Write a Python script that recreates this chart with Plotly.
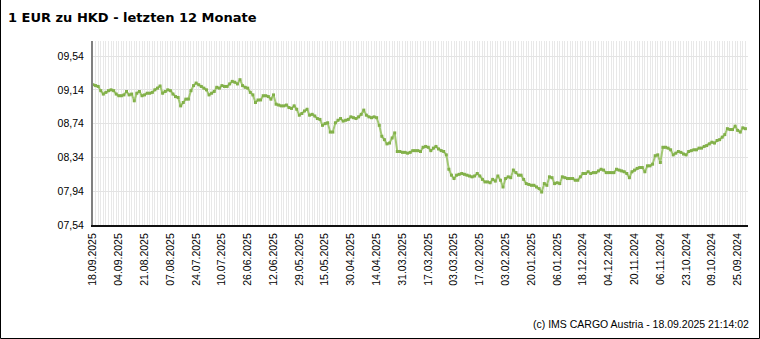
import pandas as pd
import plotly.graph_objects as go

# ---- data -------------------------------------------------------------
title_text = "1 EUR zu HKD - letzten 12 Monate"
footer_text = "(c) IMS CARGO Austria - 18.09.2025 21:14:02"

holidays = ["2024-12-25", "2024-12-26", "2025-01-01",
            "2025-04-18", "2025-04-21", "2025-05-01"]
business_days = pd.bdate_range("2024-09-20", "2025-09-18")
dates = [d.strftime("%d.%m.%Y") for d in business_days
         if d.strftime("%Y-%m-%d") not in holidays][::-1]   # newest first

rates = [
    9.20, 9.19, 9.18, 9.13, 9.09, 9.11, 9.13, 9.14, 9.13, 9.09,
    9.07, 9.07, 9.08, 9.12, 9.08, 9.09, 9.01, 9.10, 9.12, 9.07,
    9.08, 9.10, 9.10, 9.11, 9.14, 9.16, 9.185, 9.10, 9.12, 9.14,
    9.13, 9.09, 9.06, 9.05, 8.95, 8.99, 9.03, 9.03, 9.13, 9.19,
    9.22, 9.20, 9.18, 9.16, 9.14, 9.08, 9.10, 9.12, 9.17, 9.16,
    9.19, 9.18, 9.18, 9.21, 9.24, 9.23, 9.21, 9.26, 9.19, 9.17,
    9.16, 9.11, 9.08, 8.99, 9.02, 9.02, 9.07, 9.07, 9.06, 9.03,
    9.08, 8.97, 8.96, 8.95, 8.95, 8.96, 8.93, 8.92, 8.95, 8.91,
    8.84, 8.86, 8.89, 8.91, 8.84, 8.85, 8.83, 8.80, 8.79, 8.72,
    8.74, 8.75, 8.64, 8.64, 8.75, 8.78, 8.80, 8.77, 8.78, 8.79,
    8.82, 8.81, 8.80, 8.82, 8.85, 8.90, 8.84, 8.82, 8.81, 8.82,
    8.81, 8.72, 8.59, 8.55, 8.50, 8.51, 8.57, 8.63, 8.41, 8.41,
    8.40, 8.40, 8.39, 8.40, 8.42, 8.42, 8.42, 8.41, 8.46, 8.47,
    8.46, 8.42, 8.45, 8.47, 8.44, 8.42, 8.41, 8.37, 8.20, 8.13,
    8.09, 8.13, 8.14, 8.15, 8.14, 8.13, 8.12, 8.11, 8.12, 8.15,
    8.12, 8.08, 8.05, 8.05, 8.04, 8.08, 8.06, 8.12, 8.07, 7.99,
    8.09, 8.11, 8.10, 8.19, 8.16, 8.13, 8.13, 8.08, 8.03, 8.02,
    8.01, 8.01, 7.99, 7.97, 7.93, 8.03, 8.01, 8.11, 8.10, 8.03,
    8.04, 8.03, 8.11, 8.10, 8.09, 8.09, 8.09, 8.07, 8.07, 8.11,
    8.15, 8.15, 8.17, 8.15, 8.16, 8.16, 8.18, 8.20, 8.19, 8.16,
    8.16, 8.16, 8.16, 8.20, 8.19, 8.18, 8.17, 8.15, 8.10, 8.17,
    8.19, 8.21, 8.22, 8.22, 8.17, 8.24, 8.24, 8.26, 8.36, 8.37,
    8.28, 8.46, 8.46, 8.45, 8.43, 8.37, 8.39, 8.41, 8.40, 8.38,
    8.37, 8.41, 8.42, 8.43, 8.43, 8.45, 8.45, 8.47, 8.48, 8.50,
    8.52, 8.51, 8.54, 8.55, 8.58, 8.61, 8.68, 8.67, 8.67, 8.71,
    8.66, 8.64, 8.69, 8.68,
]

y_ticks = [7.54, 7.94, 8.34, 8.74, 9.14, 9.54]
y_tick_labels = ["07,54", "07,94", "08,34", "08,74", "09,14", "09,54"]

n = min(len(rates), len(dates))
x_idx = list(range(n))
x_tick_idx = list(range(0, n, 10))
x_tick_labels = [dates[i] for i in x_tick_idx]

# ---- figure -----------------------------------------------------------
W, H = 760, 339
L, R, T, B = 93, 12, 41, 114
pw, ph = W - L - R, H - T - B

def px(xp):
    return (xp - L) / pw

def py(yp):
    return (H - B - yp) / ph

fig = go.Figure()
fig.add_trace(go.Scatter(
    x=x_idx, y=rates[:n], mode="lines+markers",
    line=dict(color="#a2c873", width=2),
    marker=dict(color="#82b049", size=3, symbol="square"),
    hoverinfo="skip", showlegend=False,
))

font = "Liberation Sans, Arial, sans-serif"
fs = 10.5
fig.update_layout(
    width=W, height=H,
    margin=dict(l=L, r=R, t=T, b=B, pad=0),
    paper_bgcolor="white", plot_bgcolor="white",
    font=dict(family=font, size=fs, color="black"),
    title=dict(text="<b>" + title_text + "</b>",
               font=dict(family="DejaVu Sans, Verdana, sans-serif", size=13, color="black"),
               x=8 / W, xanchor="left", xref="container",
               y=1 - 17 / H, yanchor="middle", yref="container"),
    xaxis=dict(
        range=[0, 254], tickmode="array", tickvals=x_tick_idx, ticktext=x_tick_labels,
        tickangle=-90, showgrid=True, gridcolor="#e8e8e8", gridwidth=1,
        minor=dict(dtick=1, tick0=0, showgrid=True, gridcolor="#e8e8e8", gridwidth=1),
        showline=True, linecolor="#111111", linewidth=2, zeroline=False,
        ticks="", ticklabelstandoff=2,
        tickfont=dict(family=font, size=fs, color="black"),
        fixedrange=True,
    ),
    yaxis=dict(
        range=[7.54, 9.718], tickmode="array", tickvals=y_ticks, ticktext=y_tick_labels,
        showgrid=True, gridcolor="#e3e3e3", gridwidth=1,
        showline=True, linecolor="#808080", linewidth=2, zeroline=False,
        ticks="", ticklabelstandoff=5,
        tickfont=dict(family=font, size=fs, color="black"),
        fixedrange=True,
    ),
)

fig.add_annotation(
    text=footer_text, xref="paper", yref="paper",
    x=px(751), y=py(324), xanchor="right", yanchor="middle",
    showarrow=False, font=dict(family=font, size=fs, color="black"),
)

# outer frame (left, right, bottom)
for x0, y0, x1, y1 in [(0.5, 0, 0.5, 338.5), (759.5, 0, 759.5, 338.5), (0.5, 338.5, 759.5, 338.5)]:
    fig.add_shape(type="line", xref="paper", yref="paper",
                  x0=px(x0), y0=py(y0), x1=px(x1), y1=py(y1),
                  line=dict(color="black", width=1))

fig.write_html("out.html", config={"displayModeBar": False})
